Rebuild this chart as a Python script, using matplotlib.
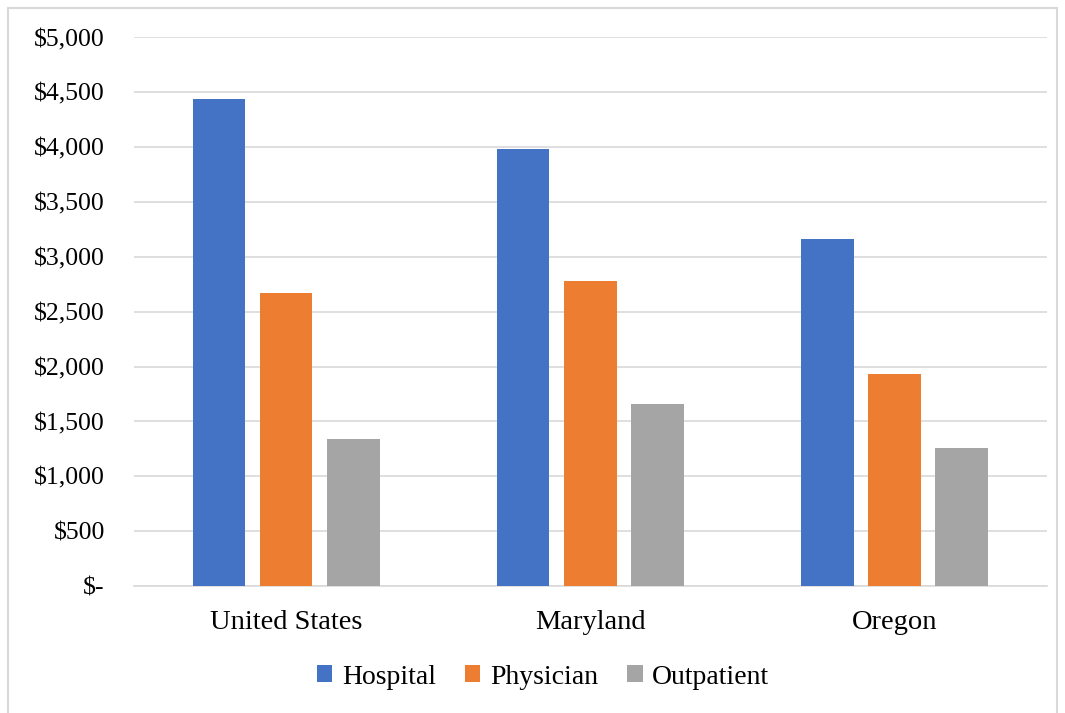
import matplotlib.pyplot as plt
import numpy as np
from matplotlib.patches import Rectangle
from matplotlib.ticker import FuncFormatter

regions = ['United States', 'Maryland', 'Oregon']
series = ['Hospital', 'Physician', 'Outpatient']
hospital = [4440, 3985, 3165]
physician = [2670, 2780, 1930]
outpatient = [1340, 1660, 1255]
colors = ['#4472c4', '#ed7d31', '#a5a5a5']

plt.rcParams['font.family'] = ['Liberation Serif', 'DejaVu Serif']

fig = plt.figure(figsize=(10.65, 7.13), dpi=100)
ax = fig.add_axes([0.1258, 0.178, 0.857, 0.7695])

x = np.arange(len(regions))
w = 0.173
step = 0.221
for i, (name, vals) in enumerate(zip(series, [hospital, physician, outpatient])):
    ax.bar(x + (i - 1) * step, vals, w, color=colors[i], label=name, zorder=3)

ax.set_xlim(-0.5, 2.5)
ax.set_ylim(0, 5000)
ax.set_yticks(np.arange(0, 5001, 500))
ax.yaxis.set_major_formatter(FuncFormatter(lambda v, p: '$-' if v == 0 else f'${v:,.0f}'))
ax.set_xticks(x)
ax.set_xticklabels(regions, fontsize=20.5)
ax.tick_params(axis='y', length=0, pad=21, labelsize=18.5)
ax.tick_params(axis='x', length=0, pad=17)
ax.grid(axis='y', color='#d9d9d9', linewidth=1.2, zorder=0)
for s in ['top', 'right', 'left']:
    ax.spines[s].set_visible(False)
ax.spines['bottom'].set_color('#d9d9d9')
ax.spines['bottom'].set_linewidth(1.2)

fig.legend(loc='center', bbox_to_anchor=(0.51, 1 - 677 / 713), ncol=3, frameon=False,
           fontsize=20, handlelength=0.55, handleheight=0.55, handletextpad=0.35,
           columnspacing=1.05)

fig.add_artist(Rectangle((8 / 1065, -0.01), 1049 / 1065, 1 - 8 / 713 + 0.01,
                         transform=fig.transFigure, fill=False,
                         edgecolor='#d9d9d9', linewidth=1.5))

fig.savefig('out.png', dpi=100)
